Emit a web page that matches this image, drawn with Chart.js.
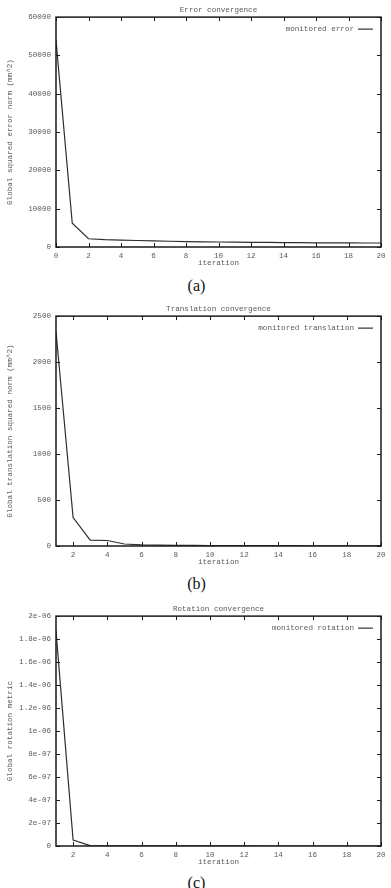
<!DOCTYPE html>
<html>
<head>
<meta charset="utf-8">
<script src="https://cdn.jsdelivr.net/npm/chart.js@4.4.1/dist/chart.umd.min.js"></script>
<style>
  html, body { margin: 0; padding: 0; background: #ffffff; }
  body { width: 391px; height: 888px; position: relative; overflow: hidden; }
  canvas { position: absolute; left: 0; }
  .cap { position: absolute; left: 0; width: 393px; text-align: center;
         font-family: "Liberation Serif", "DejaVu Serif", serif; font-size: 16px;
         line-height: 18px; color: #111; }
</style>
</head>
<body>
<canvas id="chartA" width="391" height="270" style="top:0px"></canvas>
<div class="cap" style="top:277px">(a)</div>
<canvas id="chartB" width="391" height="270" style="top:299px"></canvas>
<div class="cap" style="top:575px">(b)</div>
<canvas id="chartC" width="391" height="270" style="top:599px"></canvas>
<div class="cap" style="top:874px">(c)</div>
<script>
// ---------- data ----------
const iterationsA = [0,1,2,3,4,5,6,7,8,9,10,11,12,13,14,15,16,17,18,19,20];
const errorValues = [54000,6200,2150,1900,1800,1700,1600,1500,1420,1360,1310,1270,1230,1190,1150,1120,1100,1080,1060,1050,1040];

const iterationsBC = [1,2,3,4,5,6,7,8,9,10,11,12,13,14,15,16,17,18,19,20];
const translationValues = [2330,310,64,60,22,12,9,7,6,5,4.5,4,3.5,3,3,2.5,2.5,2,2,2];
const rotationValues = [1.87e-6,5.2e-8,3e-9,1.5e-9,1e-9,8e-10,6e-10,5e-10,4e-10,3.5e-10,3e-10,2.5e-10,2e-10,2e-10,1.5e-10,1.5e-10,1e-10,1e-10,1e-10,1e-10];

const xTicksA = [0,2,4,6,8,10,12,14,16,18,20];
const xTicksBC = [2,4,6,8,10,12,14,16,18,20];
const yTicksA = [0,10000,20000,30000,40000,50000,60000];
const yTicksB = [0,500,1000,1500,2000,2500];
const yTicksC = [0,2e-7,4e-7,6e-7,8e-7,1e-6,1.2e-6,1.4e-6,1.6e-6,1.8e-6,2e-6];
const yTickLabelsC = ["0","2e-07","4e-07","6e-07","8e-07","1e-06","1.2e-06","1.4e-06","1.6e-06","1.8e-06","2e-06"];

// ---------- styling ----------
const MONO = '"Liberation Mono", "DejaVu Sans Mono", monospace';
const TXT = '#5a5a5a';
const smallFont = { family: MONO, size: 7.6, lineHeight: 1.2, weight: 'normal' };

const frame = {
  id: 'gnuplotFrame',
  afterDatasetsDraw(chart, args, opts) {
    const { ctx, chartArea: a, scales } = chart;
    const tl = 4;
    ctx.save();
    ctx.strokeStyle = '#1a1a1a';
    ctx.lineWidth = 1;
    // inward tick marks on all four sides
    ctx.beginPath();
    scales.x.ticks.forEach(t => {
      const px = Math.round(scales.x.getPixelForValue(t.value)) + 0.5;
      ctx.moveTo(px, a.bottom); ctx.lineTo(px, a.bottom - tl);
      ctx.moveTo(px, a.top); ctx.lineTo(px, a.top + tl);
    });
    scales.y.ticks.forEach(t => {
      const py = Math.round(scales.y.getPixelForValue(t.value)) + 0.5;
      ctx.moveTo(a.left, py); ctx.lineTo(a.left + tl, py);
      ctx.moveTo(a.right, py); ctx.lineTo(a.right - tl, py);
    });
    ctx.stroke();
    // border
    ctx.lineWidth = 1.5;
    ctx.strokeRect(a.left, a.top, a.right - a.left, a.bottom - a.top);
    // key (legend) top-right inside plot
    const ds = chart.data.datasets[0];
    const ky = a.top + 12;
    ctx.font = '7.6px ' + MONO;
    ctx.fillStyle = TXT;
    ctx.textAlign = 'right';
    ctx.textBaseline = 'middle';
    ctx.fillText(ds.label, a.right - 27, ky);
    ctx.strokeStyle = '#333';
    ctx.lineWidth = 1.2;
    ctx.beginPath();
    ctx.moveTo(a.right - 23, ky); ctx.lineTo(a.right - 8, ky);
    ctx.stroke();
    ctx.restore();
  }
};

function makeChart(id, xs, ys, cfg) {
  const pts = xs.map((x, i) => ({ x: x, y: ys[i] }));
  return new Chart(document.getElementById(id), {
    type: 'line',
    data: { datasets: [{ label: cfg.label, data: pts, borderColor: '#2e2e2e', borderWidth: 1.2,
      pointRadius: 0, tension: 0, fill: false }] },
    options: {
      responsive: false, animation: false, devicePixelRatio: 1,
      layout: { padding: { left: 0, right: 10, top: 0, bottom: 0 } },
      plugins: {
        legend: { display: false },
        tooltip: { enabled: false },
        title: { display: true, text: cfg.title, color: TXT, font: smallFont, fullSize: false,
                 padding: { top: 5.5, bottom: 2.5 } }
      },
      scales: {
        x: {
          type: 'linear', min: cfg.xmin, max: 20,
          grid: { display: false, drawTicks: false },
          border: { display: false },
          ticks: { color: TXT, font: smallFont, padding: 4, maxRotation: 0, autoSkip: false },
          title: { display: true, text: 'iteration', color: TXT, font: smallFont, padding: { top: 0, bottom: 2.7 } },
          afterBuildTicks: s => { s.ticks = cfg.xTicks.map(v => ({ value: v })); },
          afterFit: s => { s.height = 23; }
        },
        y: {
          type: 'linear', min: 0, max: cfg.ymax,
          grid: { display: false, drawTicks: false },
          border: { display: false },
          ticks: { color: TXT, font: smallFont, padding: 5, autoSkip: false,
                   callback: cfg.yLabel },
          title: { display: true, text: cfg.ytitle, color: TXT, font: smallFont, padding: { top: 5.4, bottom: 0 } },
          afterBuildTicks: s => { s.ticks = cfg.yTicks.map(v => ({ value: v })); },
          afterFit: s => { s.width = 56; }
        }
      }
    },
    plugins: [frame]
  });
}

makeChart('chartA', iterationsA, errorValues, {
  label: 'monitored error', title: 'Error convergence',
  ytitle: 'Global squared error norm (mm^2)', xmin: 0, ymax: 60000,
  xTicks: xTicksA, yTicks: yTicksA, yLabel: v => String(v)
});
makeChart('chartB', iterationsBC, translationValues, {
  label: 'monitored translation', title: 'Translation convergence',
  ytitle: 'Global translation squared norm (mm^2)', xmin: 1, ymax: 2500,
  xTicks: xTicksBC, yTicks: yTicksB, yLabel: v => String(v)
});
makeChart('chartC', iterationsBC, rotationValues, {
  label: 'monitored rotation', title: 'Rotation convergence',
  ytitle: 'Global rotation metric', xmin: 1, ymax: 2e-6,
  xTicks: xTicksBC, yTicks: yTicksC, yLabel: (v, i) => yTickLabelsC[i]
});
</script>
</body>
</html>
